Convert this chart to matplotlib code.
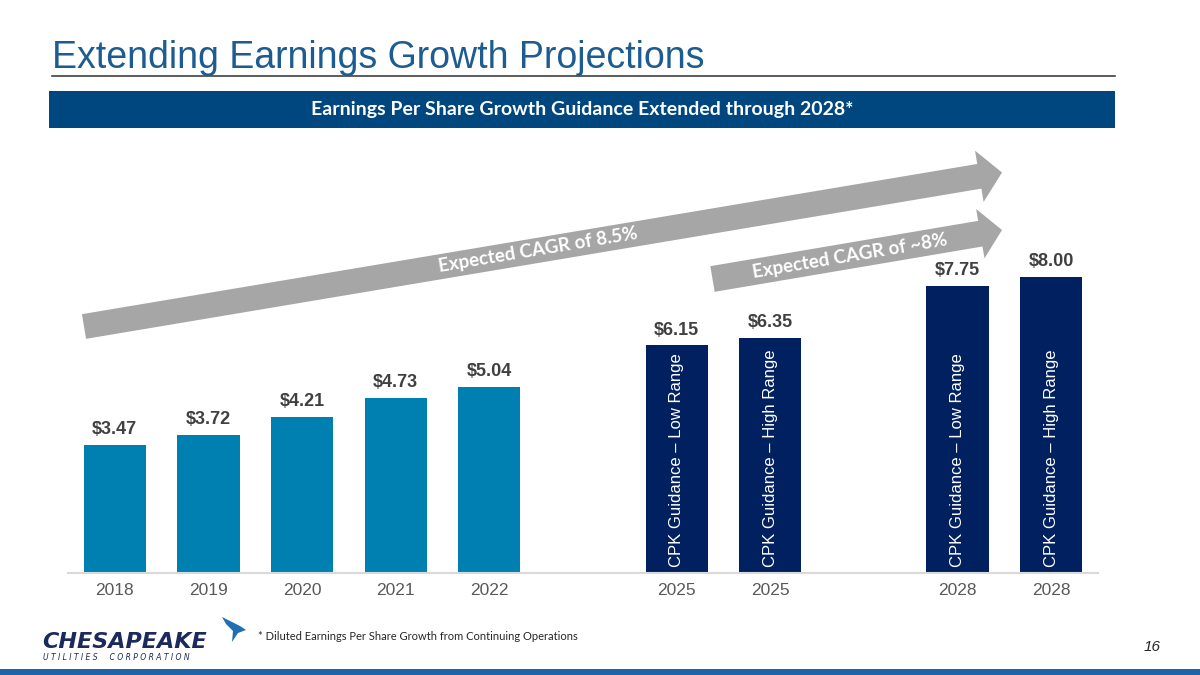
import numpy as np
import matplotlib
matplotlib.use("Agg")
import matplotlib.pyplot as plt
from matplotlib.patches import Polygon, Rectangle

# data
years = ["2018", "2019", "2020", "2021", "2022", "2025", "2025", "2028", "2028"]
eps = [3.47, 3.72, 4.21, 4.73, 5.04, 6.15, 6.35, 7.75, 8.00]
slots = [0, 1, 2, 3, 4, 6, 7, 9, 10]
inside_labels = ["", "", "", "", "",
                 "CPK Guidance – Low Range", "CPK Guidance – High Range",
                 "CPK Guidance – Low Range", "CPK Guidance – High Range"]
is_guidance = [False] * 5 + [True] * 4

W, H = 1200, 675
fig = plt.figure(figsize=(12, 6.75), dpi=100)
fig.patch.set_facecolor("white")


def fx(x):
    return x / W


def fy(y):
    return 1 - y / H


# header
fig.text(fx(52), fy(68), "Extending Earnings Growth Projections", fontsize=27,
         family="Liberation Sans", color="#1d5c90", va="baseline", ha="left")
fig.add_artist(plt.Line2D([fx(52), fx(1115)], [fy(76), fy(76)], color="#404040", lw=1.2))
fig.add_artist(Rectangle((fx(49), fy(128)), fx(1115 - 49), (128 - 91) / H,
                         transform=fig.transFigure, color="#00467f", lw=0))
fig.text(fx(582), fy(110), "Earnings Per Share Growth Guidance Extended through 2028*",
         fontsize=14, family="Lato", weight="bold", color="white", ha="center", va="center")

# chart
ax = fig.add_axes([fx(68), fy(573), fx(1098 - 68), (573 - 140) / H])
colors = ["#002060" if g else "#0080b0" for g in is_guidance]
bars = ax.bar(slots, eps, width=0.665, color=colors, zorder=2)
ax.set_xlim(-0.5, 10.5)
ax.set_ylim(0, (573 - 140) / 37)
ax.set_xticks(slots)
ax.set_xticklabels(years, fontsize=12.5, family="Liberation Sans", color="#595959")
ax.tick_params(axis="x", length=0, pad=7)
ax.set_yticks([])
for s in ["top", "right", "left"]:
    ax.spines[s].set_visible(False)
ax.spines["bottom"].set_color("#d9d9d9")
ax.spines["bottom"].set_linewidth(1.5)

for s, v in zip(slots, eps):
    ax.annotate(f"${v:.2f}", (s, v), xytext=(0, 5), textcoords="offset points",
                ha="center", va="bottom", fontsize=13, weight="bold",
                family="Liberation Sans", color="#404040")
for s, lab in zip(slots, inside_labels):
    if lab:
        ax.annotate(lab, (s, 0), xytext=(0, 4), textcoords="offset points",
                    rotation=90, ha="center", va="bottom", fontsize=12,
                    family="Liberation Sans", color="white")


# arrows (pixel geometry)
def arrow(tail, tip, shaft_w, head_w, head_l, text, tx):
    tail = np.array(tail, float)
    tip = np.array(tip, float)
    d = tip - tail
    u = d / np.hypot(*d)
    n = np.array([u[1], -u[0]])  # perpendicular (upward in pixel space)
    base = tip - u * head_l
    pts = [tail + n * shaft_w / 2, base + n * shaft_w / 2, base + n * head_w / 2, tip,
           base - n * head_w / 2, base - n * shaft_w / 2, tail - n * shaft_w / 2]
    fig.add_artist(Polygon([(fx(p[0]), fy(p[1])) for p in pts], closed=True,
                           transform=fig.transFigure, color="#a6a6a6", lw=0))
    ang = np.degrees(np.arctan2(-d[1], d[0]))
    ty = tail[1] + (tx - tail[0]) * d[1] / d[0]
    fig.text(fx(tx), fy(ty), text, rotation=ang, rotation_mode="anchor",
             ha="center", va="center", fontsize=13.5, family="Lato", weight="bold",
             color="white")


arrow((84, 326.5), (1002, 172.5), 25, 52, 23, "Expected CAGR of 8.5%", 538)
arrow((712.5, 279), (1002, 230), 26, 50, 22, "Expected CAGR of ~8%", 850)

# footer
fig.text(fx(258), fy(637), "* Diluted Earnings Per Share Growth from Continuing Operations",
         fontsize=8, family="Lato", color="#262626", va="center", ha="left")
fig.text(fx(1152), fy(647), "16", fontsize=11, style="italic", family="Liberation Sans",
         color="#262626", ha="center", va="center")
fig.add_artist(Rectangle((0, 0), 1, (675 - 669) / H, transform=fig.transFigure,
                         color="#1f64a8", lw=0))

# logo
fig.text(fx(42), fy(648), "CHESAPEAKE", fontsize=16, weight="bold", style="italic",
         family="DejaVu Sans", color="#1b2a5c", ha="left", va="baseline")
fig.text(fx(43), fy(660), "U T I L I T I E S     C O R P O R A T I O N", fontsize=5.5,
         style="italic", family="DejaVu Sans", color="#1b2a5c", ha="left", va="baseline")
swoosh = [(222, 617), (240, 626), (246, 630), (238, 633), (232, 642), (233, 631), (226, 624)]
fig.add_artist(Polygon([(fx(x), fy(y)) for x, y in swoosh], closed=True,
                       transform=fig.transFigure, color="#1f6fb2", lw=0))

fig.savefig("out.png", dpi=100)
